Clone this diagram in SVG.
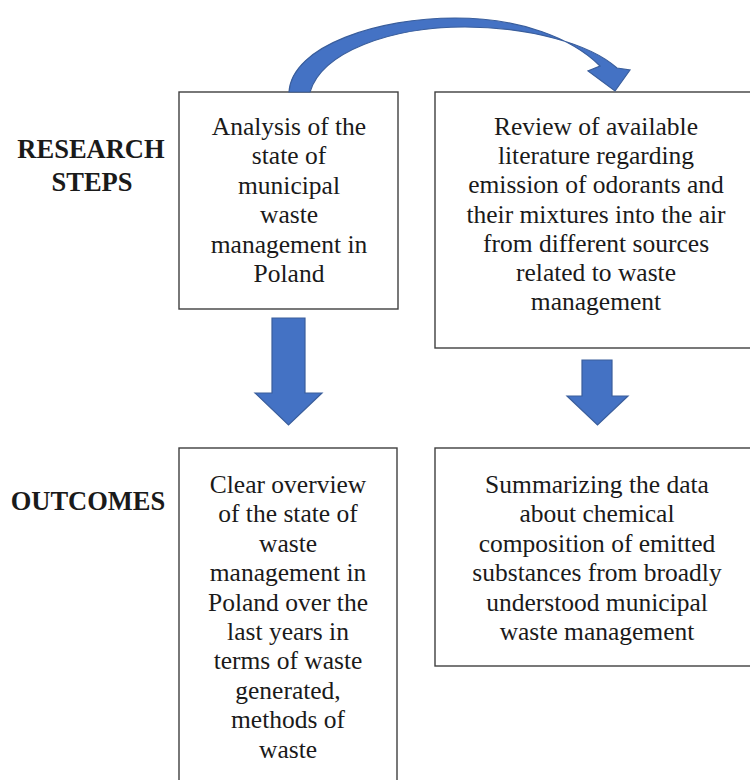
<svg xmlns="http://www.w3.org/2000/svg" width="750" height="780" viewBox="0 0 750 780">
<style>
.box{fill:#fff;stroke:#3f3f3f;stroke-width:1.4}
.t{font-family:"Liberation Serif","Times New Roman",serif;font-size:25.5px;fill:#1a1a1a;text-anchor:middle}
.lbl{font-family:"Liberation Serif","Times New Roman",serif;font-size:26.5px;font-weight:bold;fill:#1a1a1a;text-anchor:middle}
.arr{fill:#4472C4;stroke:#3A5E9C;stroke-width:1.2;stroke-linejoin:miter}
</style>
<rect width="750" height="780" fill="#fff"/>
<g id="label-research">
<text class="lbl" x="91" y="158">RESEARCH</text>
<text class="lbl" x="92" y="191">STEPS</text>
</g>
<g id="label-outcomes">
<text class="lbl" x="88" y="510">OUTCOMES</text>
</g>
<g id="box1">
<rect class="box" x="179" y="92" width="219" height="217"/>
<text class="t" x="289" y="135">Analysis of the</text>
<text class="t" x="289" y="164.4">state of</text>
<text class="t" x="289" y="193.8">municipal</text>
<text class="t" x="289" y="223.2">waste</text>
<text class="t" x="289" y="252.6">management in</text>
<text class="t" x="289" y="282">Poland</text>
</g>
<g id="box2">
<rect class="box" x="435" y="92" width="322" height="256"/>
<text class="t" x="596" y="135">Review of available</text>
<text class="t" x="596" y="164.2">literature regarding</text>
<text class="t" x="596" y="193.4">emission of odorants and</text>
<text class="t" x="596" y="222.6">their mixtures into the air</text>
<text class="t" x="596" y="251.8">from different sources</text>
<text class="t" x="596" y="281">related to waste</text>
<text class="t" x="596" y="310.2">management</text>
</g>
<g id="box3">
<rect class="box" x="179" y="448" width="218" height="345"/>
<text class="t" x="288" y="493">Clear overview</text>
<text class="t" x="288" y="522.4">of the state of</text>
<text class="t" x="288" y="551.8">waste</text>
<text class="t" x="288" y="581.2">management in</text>
<text class="t" x="288" y="610.6">Poland over the</text>
<text class="t" x="288" y="640">last years in</text>
<text class="t" x="288" y="669.4">terms of waste</text>
<text class="t" x="288" y="698.8">generated,</text>
<text class="t" x="288" y="728.2">methods of</text>
<text class="t" x="288" y="757.6">waste</text>
</g>
<g id="box4">
<rect class="box" x="435" y="448" width="322" height="218"/>
<text class="t" x="597" y="493">Summarizing the data</text>
<text class="t" x="597" y="522.4">about chemical</text>
<text class="t" x="597" y="551.8">composition of emitted</text>
<text class="t" x="597" y="581.2">substances from broadly</text>
<text class="t" x="597" y="610.6">understood municipal</text>
<text class="t" x="597" y="640">waste management</text>
</g>
<g id="connectors">
<path class="arr" d="M289,92 C292,45 380,18 455,18 C520,18 572,38 600,66 L588,71 L615,91 L630,70 L617,68 C590,44 530,27 465,27 C390,27 322,52 310,92 Z"/>
<path class="arr" d="M272,318 L305,318 L305,393 L322,393 L288.5,425 L255,393 L272,393 Z"/>
<path class="arr" d="M582,360 L612,360 L612,396 L628,396 L597.5,425 L567,396 L582,396 Z"/>
</g>
</svg>
